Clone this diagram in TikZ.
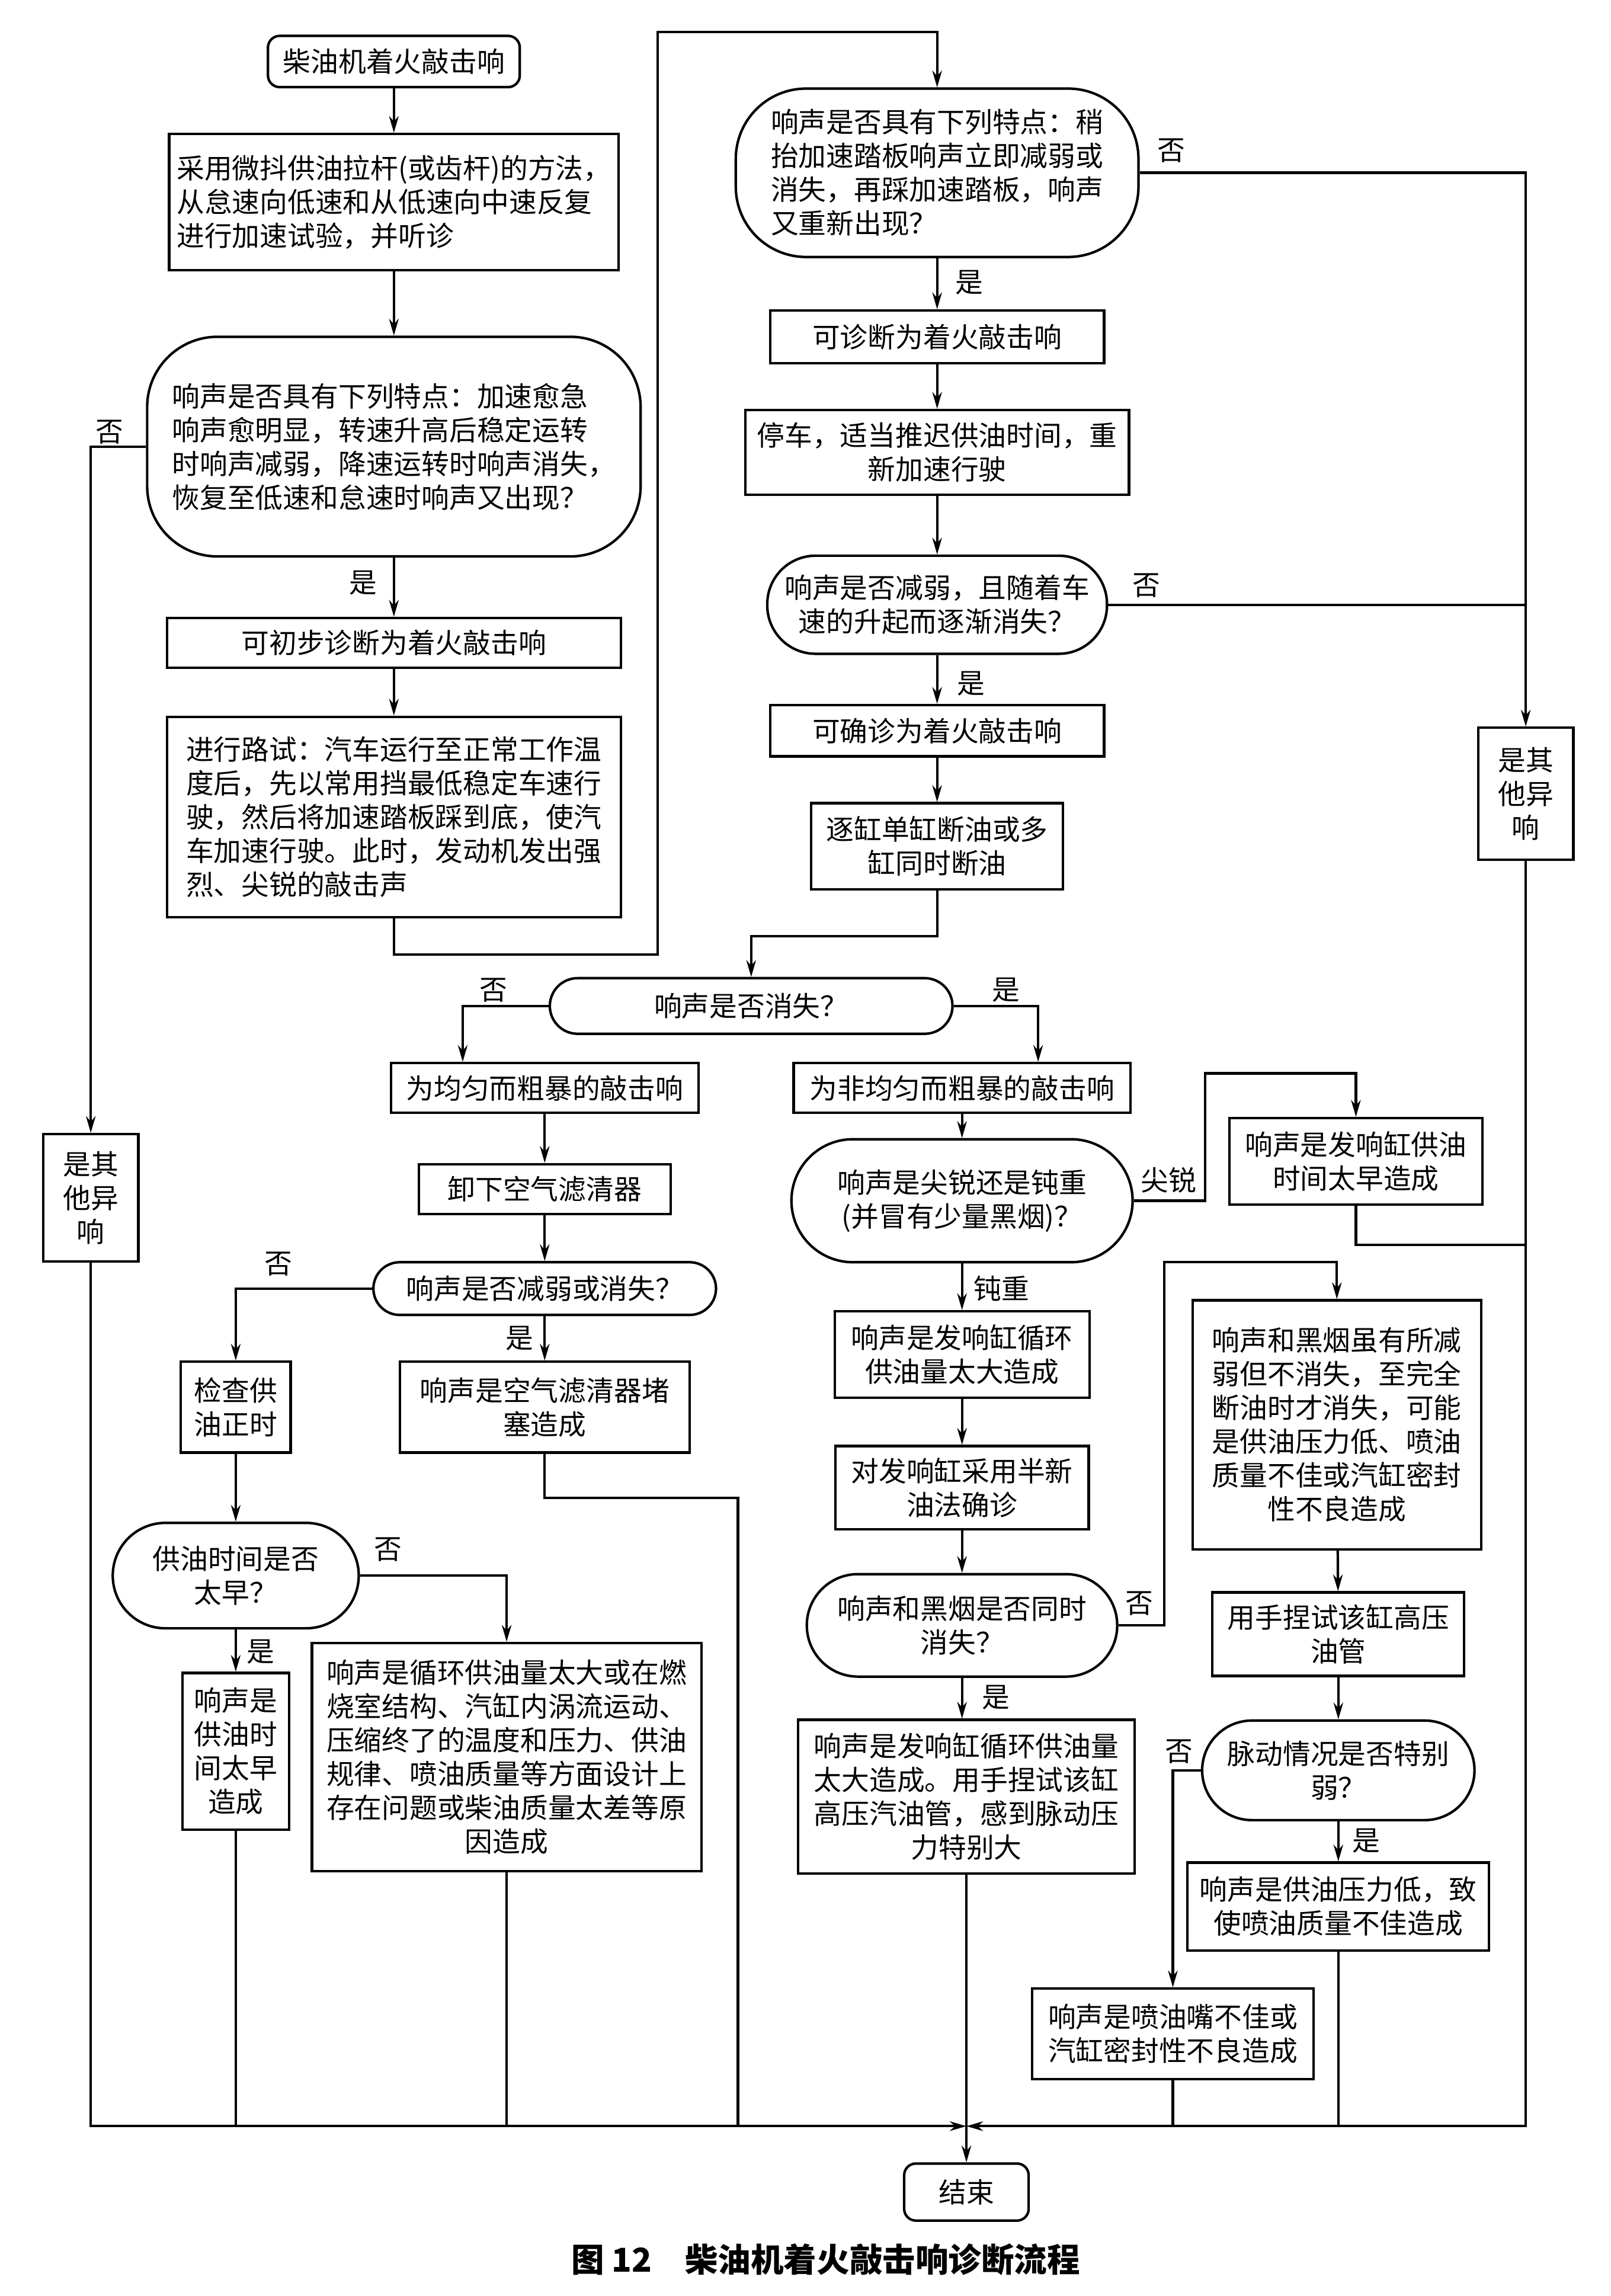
\documentclass[tikz,border=0pt]{standalone}
\usepackage{fontspec}
\setmainfont{Noto Sans CJK SC}
\usetikzlibrary{arrows.meta}

\newcommand{\unitpx}{0.02471cm}
\newcommand{\boxfont}{\fontsize{13.3pt}{16.2pt}\selectfont}
\newcommand{\capfont}{\fontsize{15.8pt}{18pt}\selectfont\bfseries}

\begin{document}
\begin{tikzpicture}[
	%	style def
	x=\unitpx, y=-\unitpx,
	line width=1.2pt,
	every node/.style={font=\boxfont, inner sep=0pt},
	box/.style 2 args={draw, minimum width=#1*\unitpx, minimum height=#2*\unitpx, align=center},
	term/.style 2 args={box={#1}{#2}, rounded corners=8*\unitpx},
	decide/.style n args={3}{box={#1}{#2}, rounded corners=#3*\unitpx},
	arr/.style={-{Stealth[length=8pt,width=4.6pt]}}
	]
	\useasboundingbox (0,0) rectangle (1100,1568);

	% left column
	\node[term={172}{35}] (start) at (269,42) {柴油机着火敲击响};
	\node[box={307}{93}, align=left] (test) at (269,138) {采用微抖供油拉杆(或齿杆)的方法，\\从怠速向低速和从低速向中速反复\\进行加速试验，并听诊};
	\node[decide={337}{150}{48}, align=left] (q1) at (269,305) {响声是否具有下列特点：加速愈急\\响声愈明显，转速升高后稳定运转\\时响声减弱，降速运转时响声消失，\\恢复至低速和怠速时响声又出现？};
	\node[box={310}{34}] (pre) at (269,439) {可初步诊断为着火敲击响};
	\node[box={310}{137}, align=left] (road) at (269,558) {进行路试：汽车运行至正常工作温\\度后，先以常用挡最低稳定车速行\\驶，然后将加速踏板踩到底，使汽\\车加速行驶。此时，发动机发出强\\烈、尖锐的敲击声};
	\node[box={65}{87}] (lother) at (62,818) {是其\\他异\\响};

	% right column, top
	\node[decide={275}{115}{48}, align=left] (q2) at (640,118) {响声是否具有下列特点：稍\\抬加速踏板响声立即减弱或\\消失，再踩加速踏板，响声\\又重新出现？};
	\node[box={228}{36}] (diag) at (640,230) {可诊断为着火敲击响};
	\node[box={262}{58}] (stop) at (640,309) {停车，适当推迟供油时间，重\\新加速行驶};
	\node[decide={232}{67}{33}] (q3) at (640,413) {响声是否减弱，且随着车\\速的升起而逐渐消失？};
	\node[box={228}{35}] (conf) at (640,499) {可确诊为着火敲击响};
	\node[box={172}{59}] (cut) at (640,578) {逐缸单缸断油或多\\缸同时断油};
	\node[box={65}{90}] (rother) at (1042,542) {是其\\他异\\响};

	% even knock
	\node[decide={275}{38}{19}] (q4) at (513,687) {响声是否消失？};
	\node[box={210}{34}] (even) at (372,743) {为均匀而粗暴的敲击响};
	\node[box={172}{34}] (filter) at (372,812) {卸下空气滤清器};
	\node[decide={234}{36}{18}] (q5) at (372,880) {响声是否减弱或消失？};
	\node[box={75}{62}] (timing) at (161,961) {检查供\\油正时};
	\node[box={198}{62}] (clog) at (372,961) {响声是空气滤清器堵\\塞造成};
	\node[decide={168}{72}{36}] (q6) at (161,1076) {供油时间是否\\太早？};
	\node[box={73}{107}] (early) at (161,1196) {响声是\\供油时\\间太早\\造成};
	\node[box={266}{156}] (design) at (346,1200) {响声是循环供油量太大或在燃\\烧室结构、汽缸内涡流运动、\\压缩终了的温度和压力、供油\\规律、喷油质量等方面设计上\\存在问题或柴油质量太差等原\\因造成};

	% uneven knock
	\node[box={230}{34}] (uneven) at (657,743) {为非均匀而粗暴的敲击响};
	\node[decide={233}{84}{42}] (q7) at (657,820) {响声是尖锐还是钝重\\(并冒有少量黑烟)？};
	\node[box={173}{59}] (sharp) at (926,793) {响声是发响缸供油\\时间太早造成};
	\node[box={174}{59}] (dull) at (657,925) {响声是发响缸循环\\供油量太大造成};
	\node[box={173}{57}] (half) at (657,1016) {对发响缸采用半新\\油法确诊};
	\node[decide={212}{70}{35}] (q8) at (657,1110) {响声和黑烟是否同时\\消失？};
	\node[box={230}{105}] (big) at (660,1227) {响声是发响缸循环供油量\\太大造成。用手捏试该缸\\高压汽油管，感到脉动压\\力特别大};
	\node[box={197}{170}] (weak) at (913,973) {响声和黑烟虽有所减\\弱但不消失，至完全\\断油时才消失，可能\\是供油压力低、喷油\\质量不佳或汽缸密封\\性不良造成};
	\node[box={172}{57}] (pinch) at (914,1116) {用手捏试该缸高压\\油管};
	\node[decide={186}{68}{34}] (q9) at (914,1209) {脉动情况是否特别\\弱？};
	\node[box={206}{60}] (low) at (914,1302) {响声是供油压力低，致\\使喷油质量不佳造成};
	\node[box={192}{62}] (nozzle) at (801,1389) {响声是喷油嘴不佳或\\汽缸密封性不良造成};
	\node[term={85}{39}] (end) at (660,1497) {结束};

	% connections
	\draw[arr] (start) -- (test);
	\draw[arr] (test) -- (q1);
	\draw[arr] (q1) -- (pre);
	\draw[arr] (pre) -- (road);
	\draw[arr] (road.south) |- (449,652) -- (449,22) -| (q2.north);
	\draw[arr] (q1.west) -| (lother.north);
	\draw[arr] (q2) -- (diag);
	\draw[arr] (diag) -- (stop);
	\draw[arr] (stop) -- (q3);
	\draw[arr] (q3) -- (conf);
	\draw[arr] (conf) -- (cut);
	\draw[arr] (q2.east) -| (rother.north);
	\draw (q3.east) -- (q3.east -| rother.north);
	\draw[arr] (cut.south) -- ++(0,31) -| (q4.north);
	\draw[arr] (q4.west) -| (even.north -| 316,0);
	\draw[arr] (q4.east) -| (uneven.north -| 709,0);
	\draw[arr] (even) -- (filter);
	\draw[arr] (filter) -- (q5);
	\draw[arr] (q5.west) -| (timing.north);
	\draw[arr] (q5) -- (clog);
	\draw[arr] (timing) -- (q6);
	\draw[arr] (q6.east) -| (design.north);
	\draw[arr] (q6) -- (early);
	\draw[arr] (uneven) -- (q7);
	\draw[arr] (q7.east) -| (823,733) -| (sharp.north);
	\draw[arr] (q7) -- (dull);
	\draw[arr] (dull) -- (half);
	\draw[arr] (half) -- (q8);
	\draw[arr] (q8.east) -| (795,862) -| (weak.north);
	\draw[arr] (q8.south) -- (q8.south |- big.north);
	\draw[arr] (weak) -- (pinch);
	\draw[arr] (pinch) -- (q9);
	\draw[arr] (q9.west) -| (nozzle.north);
	\draw[arr] (q9) -- (low);

	% collecting lines to the end
	\coordinate (join) at (660,1452);
	\draw[arr] (lother.south) |- (join);
	\draw[arr] (rother.south) |- (join);
	\draw[arr] (big) -- (end);
	\draw (early.south) -- (early.south |- join);
	\draw (design.south) -- (design.south |- join);
	\draw (clog.south) |- (504,1023) -- (504,1452);
	\draw (nozzle.south) -- (nozzle.south |- join);
	\draw (low.south) -- (low.south |- join);
	\draw (sharp.south) |- (rother.south |- 0,850);

	% yes / no labels
	\node (n1) at (75,295) {否};
	\node (y1) at (248,398) {是};
	\node (n2) at (800,103) {否};
	\node (y2) at (662,193) {是};
	\node (n3) at (783,400) {否};
	\node (y3) at (663,467) {是};
	\node (n4) at (337,676) {否};
	\node (y4) at (687,676) {是};
	\node (n5) at (190,863) {否};
	\node (y5) at (355,914) {是};
	\node (n6) at (265,1058) {否};
	\node (y6) at (178,1128) {是};
	\node (sh) at (798,806) {尖锐};
	\node (du) at (684,880) {钝重};
	\node (n8) at (778,1095) {否};
	\node (y8) at (680,1159) {是};
	\node (n9) at (805,1196) {否};
	\node (y9) at (933,1257) {是};

	% caption
	\node[font=\capfont] (title) at (564,1543) {图 12\hspace{1em}柴油机着火敲击响诊断流程};
\end{tikzpicture}
\end{document}
